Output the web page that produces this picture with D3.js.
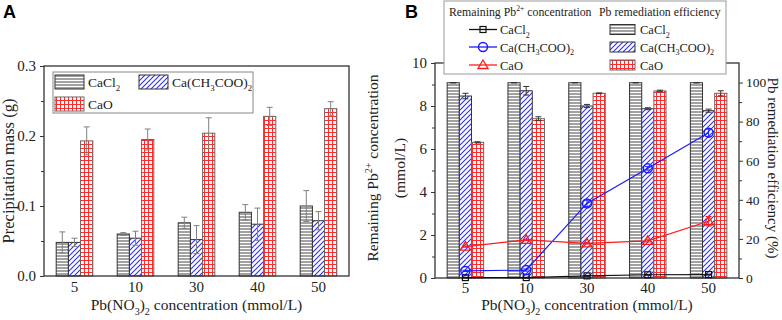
<!DOCTYPE html>
<html><head><meta charset="utf-8">
<script src="https://cdn.jsdelivr.net/npm/d3@7"></script>
<style>body{margin:0;background:#fff}svg{display:block}</style>
</head><body><svg id="c" width="782" height="320"></svg>
<script>
// ---------- data ----------
const categories = ["5", "10", "30", "40", "50"];
// Panel A: precipitation mass (g)
const massCaCl2 = [0.048, 0.060, 0.076, 0.091, 0.100];
const errMassCaCl2 = [0.015, 0.002, 0.008, 0.011, 0.022];
const massAc = [0.048, 0.054, 0.052, 0.074, 0.079];
const errMassAc = [0.006, 0.010, 0.020, 0.023, 0.013];
const massCaO = [0.193, 0.195, 0.204, 0.228, 0.239];
const errMassCaO = [0.020, 0.015, 0.022, 0.013, 0.010];
const tickA = [0, 0.1, 0.2, 0.3];
const minorA = [0.05, 0.15, 0.25];
// Panel B: remediation efficiency (%) bars
const effCaCl2 = [99.9, 99.9, 99.9, 99.9, 99.9];
const errEffCaCl2 = [0.1, 0.1, 0.1, 0.1, 0.1];
const effAc = [93.1, 95.8, 88.0, 86.6, 85.6];
const errEffAc = [1.4, 2.2, 0.8, 0.5, 0.8];
const effCaO = [69.4, 81.5, 94.5, 95.7, 94.5];
const errEffCaO = [0.3, 1.0, 0.2, 0.4, 1.3];
// Panel B: remaining Pb2+ concentration (mmol/L) lines
const concCaCl2 = [0.02, 0.02, 0.10, 0.15, 0.16];
const errConcCaCl2 = [0.01, 0.01, 0.02, 0.02, 0.02];
const concAc = [0.33, 0.37, 3.47, 5.10, 6.76];
const errConcAc = [0.03, 0.05, 0.15, 0.08, 0.17];
const concCaO = [1.46, 1.77, 1.61, 1.73, 2.64];
const errConcCaO = [0.03, 0.03, 0.03, 0.05, 0.22];
const tickBL = [0, 2, 4, 6, 8, 10];
const minorBL = [1, 3, 5, 7, 9];
const tickBR = [0, 20, 40, 60, 80, 100];
const minorBR = [10, 30, 50, 70, 90];

// ---------- helpers ----------
const svg = d3.select("#c");
const SERIF = "'Liberation Serif','Times New Roman',serif";
const SANS = "'Liberation Sans',Arial,sans-serif";
const defs = svg.append("defs");
const pH = defs.append("pattern").attr("id", "hl").attr("patternUnits", "userSpaceOnUse").attr("width", 6).attr("height", 3);
pH.append("rect").attr("width", 6).attr("height", 3).attr("fill", "#fff");
pH.append("line").attr("x1", 0).attr("x2", 6).attr("y1", 1).attr("y2", 1).attr("stroke", "#555").attr("stroke-width", 1.1);
const pD = defs.append("pattern").attr("id", "dg").attr("patternUnits", "userSpaceOnUse").attr("width", 5).attr("height", 5);
pD.append("rect").attr("width", 5).attr("height", 5).attr("fill", "#fff");
pD.append("path").attr("d", "M-1,1 L1,-1 M0,5 L5,0 M4,6 L6,4").attr("stroke", "#3030f5").attr("stroke-width", 1.1);
const pG = defs.append("pattern").attr("id", "gr").attr("patternUnits", "userSpaceOnUse").attr("width", 4).attr("height", 4);
pG.append("rect").attr("width", 4).attr("height", 4).attr("fill", "#fff");
pG.append("path").attr("d", "M0.5,0 V4 M0,0.5 H4").attr("stroke", "#ff2a2a").attr("stroke-width", 1);

function rich(t, parts, size) {
  let cur = 0;
  parts.forEach(p => {
    let txt = p, type = null;
    if (Array.isArray(p)) { txt = p[0]; type = p[1]; }
    const want = type === "sub" ? size * 0.3 : type === "sup" ? -size * 0.4 : 0;
    const ts = t.append("tspan").attr("dy", want - cur).text(txt);
    if (type) ts.attr("font-size", size * 0.65);
    cur = want;
  });
  return t;
}
const xTitleParts = ["Pb(NO", ["3", "sub"], ")", ["2", "sub"], " concentration (mmol/L)"];
const acParts = ["Ca(CH", ["3", "sub"], "COO)", ["2", "sub"]];
const clParts = ["CaCl", ["2", "sub"]];

const fills = ["url(#hl)", "url(#dg)", "url(#gr)"];
const strokes = ["#333", "#333", "#666"];

function drawBars(g, xs, ys, seriesVals, seriesErr, errColor) {
  const inner = d3.scaleBand().domain([0, 1, 2]).range([0, xs.bandwidth() * 0.6]);
  const off = xs.bandwidth() * 0.2;
  seriesVals.forEach((vals, si) => {
    const gg = g.append("g");
    gg.selectAll("rect").data(vals).join("rect")
      .attr("x", (d, i) => xs(categories[i]) + off + inner(si))
      .attr("y", d => ys(d))
      .attr("width", inner.bandwidth())
      .attr("height", d => ys(0) - ys(d))
      .attr("fill", fills[si]).attr("stroke", strokes[si]).attr("stroke-width", 1);
    const errs = seriesErr[si];
    vals.forEach((v, i) => {
      const cx = xs(categories[i]) + off + inner(si) + inner.bandwidth() / 2;
      const y1 = ys(v + errs[i]), y2 = ys(v - errs[i]);
      gg.append("line").attr("x1", cx).attr("x2", cx).attr("y1", y1).attr("y2", y2).attr("stroke", errColor).attr("stroke-width", 1);
      [y1, y2].forEach(yy => gg.append("line").attr("x1", cx - 3).attr("x2", cx + 3).attr("y1", yy).attr("y2", yy).attr("stroke", errColor).attr("stroke-width", 1));
    });
  });
}

// ---------- Panel A ----------
const xA = d3.scaleBand().domain(categories).range([44, 349]);
const yA = d3.scaleLinear().domain([0, 0.3]).range([276, 66]);
const gA = svg.append("g");
drawBars(gA, xA, yA, [massCaCl2, massAc, massCaO], [errMassCaCl2, errMassAc, errMassCaO], "#808080");
gA.append("rect").attr("x", 44).attr("y", 66).attr("width", 305).attr("height", 210).attr("fill", "none").attr("stroke", "#333").attr("stroke-width", 1.3);
const axA = gA.append("g").attr("transform", "translate(44,0)")
  .call(d3.axisLeft(yA).tickValues(tickA).tickFormat(d3.format(".1f")).tickSize(4).tickPadding(4));
axA.select(".domain").remove();
axA.selectAll("text").attr("font-family", SERIF).attr("font-size", 15).attr("fill", "#222");
axA.selectAll("line").attr("stroke", "#333");
gA.append("g").attr("transform", "translate(44,0)").call(d3.axisLeft(yA).tickValues(minorA).tickFormat("").tickSize(3))
  .call(s => { s.select(".domain").remove(); s.selectAll("line").attr("stroke", "#333"); });
const axAx = gA.append("g").attr("transform", "translate(0,276)").call(d3.axisBottom(xA).tickSize(0).tickPadding(5));
axAx.select(".domain").remove();
axAx.selectAll("text").attr("font-family", SERIF).attr("font-size", 15).attr("fill", "#222");
rich(gA.append("text").attr("x", 196.5).attr("y", 310).attr("text-anchor", "middle").attr("font-family", SERIF).attr("font-size", 15.5).attr("fill", "#222"), xTitleParts, 15.5);
gA.append("text").attr("transform", "translate(14,171) rotate(-90)").attr("text-anchor", "middle").attr("font-family", SERIF).attr("font-size", 16.5).attr("fill", "#222").text("Precipitation mass (g)");
// legend A
const lgA = gA.append("g");
lgA.append("rect").attr("x", 53).attr("y", 72).attr("width", 200).attr("height", 41).attr("fill", "#fff").attr("stroke", "#888").attr("stroke-width", 1);
[[55, 75, clParts], [139, 75, acParts], [55, 97, ["CaO"]]].forEach((d, i) => {
  lgA.append("rect").attr("x", d[0]).attr("y", d[1]).attr("width", 29).attr("height", 14).attr("fill", fills[i]).attr("stroke", strokes[i]);
  rich(lgA.append("text").attr("x", d[0] + 33).attr("y", d[1] + 12).attr("font-family", SERIF).attr("font-size", 13.5).attr("fill", "#222"), d[2], 13.5);
});
svg.append("text").attr("x", 3).attr("y", 18).attr("font-family", SANS).attr("font-weight", "bold").attr("font-size", 18).text("A");

// ---------- Panel B ----------
const xB = d3.scaleBand().domain(categories).range([435, 739]);
const yL = d3.scaleLinear().domain([0, 10]).range([278, 63]);
const yR = d3.scaleLinear().domain([0, 110]).range([278, 63]);
const gB = svg.append("g");
drawBars(gB, xB, yR, [effCaCl2, effAc, effCaO], [errEffCaCl2, errEffAc, errEffCaO], "#333");
gB.append("rect").attr("x", 435).attr("y", 63).attr("width", 304).attr("height", 215).attr("fill", "none").attr("stroke", "#333").attr("stroke-width", 1.3);
const lineSeries = [
  { v: concCaCl2, e: errConcCaCl2, c: "#111", m: "square" },
  { v: concAc, e: errConcAc, c: "#1a1aff", m: "circle" },
  { v: concCaO, e: errConcCaO, c: "#ff1a1a", m: "triangle" }
];
const cxB = c => xB(c) + xB.bandwidth() / 2;
function marker(g, type, x, y, color) {
  if (type === "square") g.append("rect").attr("x", x - 3).attr("y", y - 3).attr("width", 6).attr("height", 6).attr("fill", "none").attr("stroke", color).attr("stroke-width", 1.2);
  else if (type === "circle") g.append("circle").attr("cx", x).attr("cy", y).attr("r", 4.5).attr("fill", "none").attr("stroke", color).attr("stroke-width", 1.5);
  else g.append("path").attr("d", `M${x},${y - 5} L${x + 5},${y + 3.5} L${x - 5},${y + 3.5} Z`).attr("fill", "none").attr("stroke", color).attr("stroke-width", 1.3);
}
lineSeries.forEach(s => {
  const g = gB.append("g");
  g.append("path").datum(s.v).attr("fill", "none").attr("stroke", s.c).attr("stroke-width", 1.2)
    .attr("d", d3.line().x((d, i) => cxB(categories[i])).y(d => yL(d)));
  s.v.forEach((v, i) => {
    const x = cxB(categories[i]);
    const y1 = yL(v + s.e[i]), y2 = yL(v - s.e[i]);
    g.append("line").attr("x1", x).attr("x2", x).attr("y1", y1).attr("y2", y2).attr("stroke", s.c).attr("stroke-width", 1);
    [y1, y2].forEach(yy => g.append("line").attr("x1", x - 3).attr("x2", x + 3).attr("y1", yy).attr("y2", yy).attr("stroke", s.c).attr("stroke-width", 1));
    marker(g, s.m, x, yL(v), s.c);
  });
});
const axBL = gB.append("g").attr("transform", "translate(435,0)").call(d3.axisLeft(yL).tickValues(tickBL).tickSize(4).tickPadding(4));
const axBLm = gB.append("g").attr("transform", "translate(435,0)").call(d3.axisLeft(yL).tickValues(minorBL).tickFormat("").tickSize(3));
const axBR = gB.append("g").attr("transform", "translate(739,0)").call(d3.axisRight(yR).tickValues(tickBR).tickSize(4).tickPadding(3));
const axBRm = gB.append("g").attr("transform", "translate(739,0)").call(d3.axisRight(yR).tickValues(minorBR).tickFormat("").tickSize(3));
[axBL, axBLm, axBR, axBRm].forEach(a => { a.select(".domain").remove(); a.selectAll("line").attr("stroke", "#333"); a.selectAll("text").attr("font-family", SERIF).attr("font-size", 15).attr("fill", "#222"); });
axBR.selectAll("text").attr("font-size", 13.5);
const axBx = gB.append("g").attr("transform", "translate(0,278)").call(d3.axisBottom(xB).tickSize(0).tickPadding(4));
axBx.select(".domain").remove();
axBx.selectAll("text").attr("font-family", SERIF).attr("font-size", 15).attr("fill", "#222");
rich(gB.append("text").attr("x", 587).attr("y", 310).attr("text-anchor", "middle").attr("font-family", SERIF).attr("font-size", 15.5).attr("fill", "#222"), xTitleParts, 15.5);
rich(gB.append("text").attr("transform", "translate(378,168) rotate(-90)").attr("text-anchor", "middle").attr("font-family", SERIF).attr("font-size", 15.5).attr("fill", "#222"), ["Remaining Pb", ["2+", "sup"], " concentration"], 15.5);
gB.append("text").attr("transform", "translate(405,168) rotate(-90)").attr("text-anchor", "middle").attr("font-family", SERIF).attr("font-size", 15.5).attr("fill", "#222").text("(mmol/L)");
gB.append("text").attr("transform", "translate(768,168) rotate(90)").attr("text-anchor", "middle").attr("font-family", SERIF).attr("font-size", 15).attr("fill", "#222").text("Pb remediation efficiency (%)");
// legend B
const lgB = gB.append("g");
lgB.append("rect").attr("x", 444).attr("y", 1).attr("width", 282).attr("height", 73).attr("fill", "#fff").attr("stroke", "#999").attr("stroke-width", 1);
const LS = 11.8;
rich(lgB.append("text").attr("x", 449).attr("y", 16).attr("font-family", SERIF).attr("font-size", LS).attr("fill", "#222"), ["Remaining Pb", ["2+", "sup"], " concentration"], LS);
lgB.append("text").attr("x", 599).attr("y", 16).attr("font-family", SERIF).attr("font-size", LS).attr("fill", "#222").text("Pb remediation efficiency");
const lgRowsY = [29.5, 47, 65];
const lgLabels = [clParts, acParts, ["CaO"]];
lineSeries.forEach((s, i) => {
  const y = lgRowsY[i];
  lgB.append("line").attr("x1", 469).attr("x2", 497).attr("y1", y).attr("y2", y).attr("stroke", s.c).attr("stroke-width", 1.3);
  marker(lgB, s.m, 483, y, s.c);
  rich(lgB.append("text").attr("x", 500).attr("y", y + 4.5).attr("font-family", SERIF).attr("font-size", 12.5).attr("fill", "#222"), lgLabels[i], 12.5);
  lgB.append("rect").attr("x", 610).attr("y", y - 5).attr("width", 25).attr("height", 10).attr("fill", fills[i]).attr("stroke", strokes[i]);
  rich(lgB.append("text").attr("x", 640).attr("y", y + 4.5).attr("font-family", SERIF).attr("font-size", 12.5).attr("fill", "#222"), lgLabels[i], 12.5);
});
svg.append("text").attr("x", 405).attr("y", 18).attr("font-family", SANS).attr("font-weight", "bold").attr("font-size", 18).text("B");
</script></body></html>
